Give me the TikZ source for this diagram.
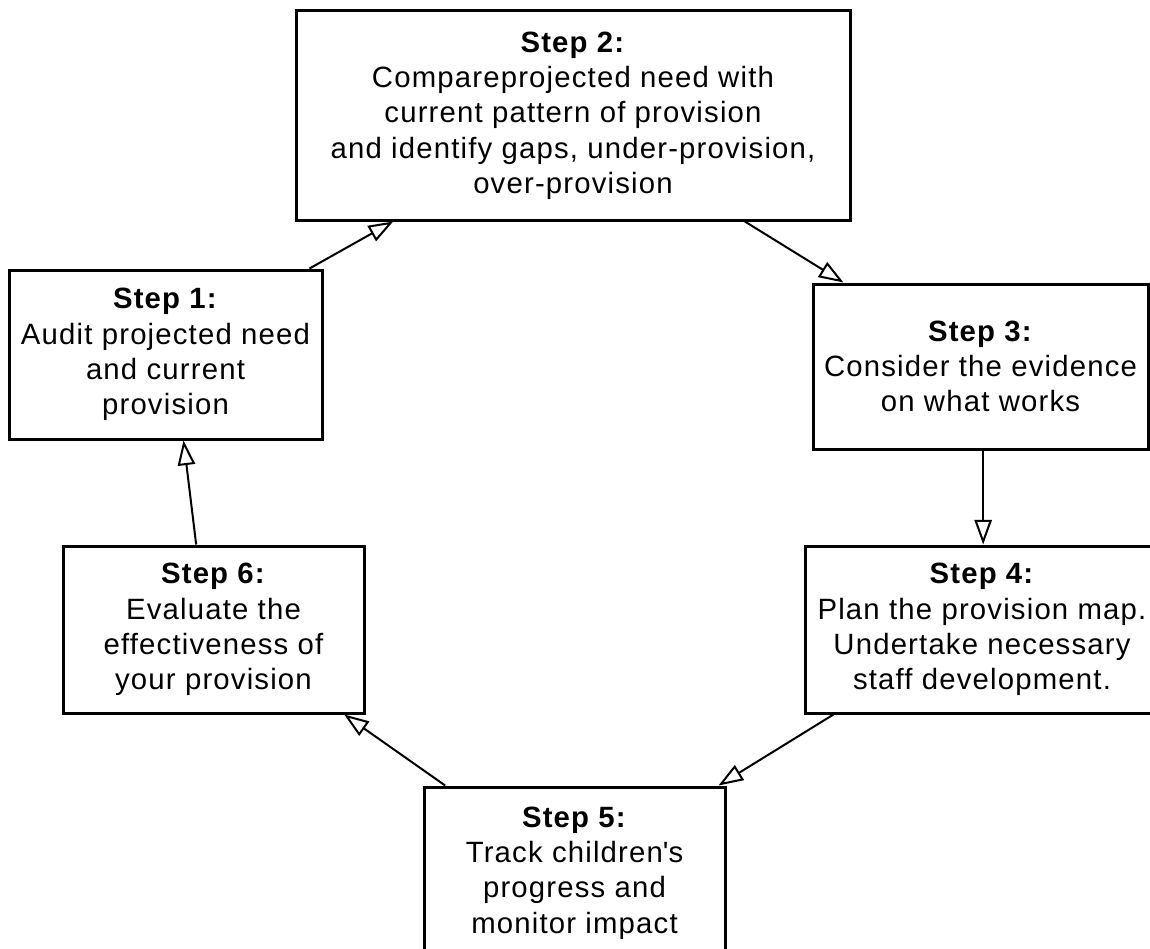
\documentclass[tikz,border=0pt]{standalone}
\usepackage{fontspec}
\setmainfont[LetterSpace=4]{Liberation Sans}
\usetikzlibrary{positioning,calc,arrows.meta}
\tikzset{>={Triangle[open,length=18.5pt,width=13pt]}}
\newcommand*{\stephead}[1]{\textbf{Step #1:}}

\begin{document}
\begin{tikzpicture}[x=0.75pt,y=-0.75pt,align=center,
  stepbox/.style={draw,line width=2.25pt,inner sep=0pt,font=\fontsize{22}{26.5}\selectfont},
  link/.style={->,line width=1.5pt}]
\useasboundingbox (0,0) rectangle (1150,949);
\clip (0,0) rectangle (1150,949);
% Draw the six step boxes
\node[stepbox,minimum width=234.75pt,minimum height=126.75pt] (s1) at (165.5,354.5)
  {\stephead{1}\\Audit projected need\\and current\\provision};
\node[stepbox,minimum width=415.5pt,minimum height=156.75pt] (s2) at (573,115.5)
  {\stephead{2}\\Compareprojected need with\\current pattern of provision\\and identify gaps, under-provision,\\over-provision};
\node[stepbox,minimum width=251.25pt,minimum height=123.75pt] (s3) at (980.5,366.5)
  {\stephead{3}\\Consider the evidence\\on what works};
\node[stepbox,minimum width=265.5pt,minimum height=125.25pt] (s4) at (982,629.5)
  {\stephead{4}\\Plan the provision map.\\Undertake necessary\\staff development.};
\node[stepbox,minimum width=225.75pt,minimum height=129pt] (s5) at (574.5,873)
  {\stephead{5}\\Track children\textquotesingle s\\progress and\\monitor impact};
\node[stepbox,minimum width=225.75pt,minimum height=125.25pt] (s6) at (213.5,629.5)
  {\stephead{6}\\Evaluate the\\effectiveness of\\your provision};
% Connect the steps round the cycle
\draw[link] ([xshift=-10.5pt]s1.north east) -- ([xshift=74pt]s2.south west);
\draw[link] ([xshift=-80pt]s2.south east) -- ([xshift=24pt]s3.north west);
\draw[link] ([xshift=2pt]s3.south) -- ([xshift=2pt]s3.south |- s4.north);
\draw[link] ([xshift=22.5pt]s4.south west) -- ([xshift=-6pt]s5.north east);
\draw[link] ([xshift=17pt]s5.north west) -- ([xshift=-16pt]s6.south east);
\draw[link] ([xshift=101pt]s6.north west) -- ([xshift=132pt]s1.south west);
\end{tikzpicture}
\end{document}
